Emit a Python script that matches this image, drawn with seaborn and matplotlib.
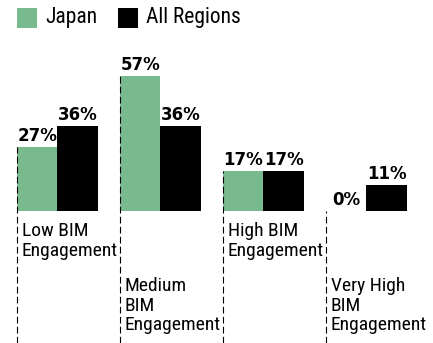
import matplotlib
matplotlib.use("Agg")
import matplotlib.pyplot as plt
from matplotlib.patches import Rectangle
import pandas as pd
import seaborn as sns

# Share of respondents by BIM engagement level
categories = ["Low BIM\nEngagement", "Medium\nBIM\nEngagement",
              "High BIM\nEngagement", "Very High\nBIM\nEngagement"]
series_names = ["Japan", "All Regions"]
japan = [27, 57, 17, 0]
all_regions = [36, 36, 17, 11]

colors = {"Japan": "#78b98e", "All Regions": "#000000"}

df = pd.DataFrame({
    "category": categories * 2,
    "series": [series_names[0]] * 4 + [series_names[1]] * 4,
    "value": japan + all_regions,
})

sns.set_style("white")
label_font = ["Roboto Condensed", "DejaVu Sans"]
value_font = ["DejaVu Sans"]

fig = plt.figure(figsize=(4.33, 3.43), dpi=100)
ax = fig.add_axes([0, 0, 1, 1])

sns.barplot(data=df, x="category", y="value", hue="series",
            hue_order=series_names, order=categories, palette=colors,
            width=0.786, saturation=1, legend=False, ax=ax,
            edgecolor="none", linewidth=0)

ax.set_xlim(-0.558, 3.646)
ax.set_ylim(-55.7, 89.0)
ax.set_axis_off()

bars = ax.patches
n = len(categories)
japan_bars = bars[:n]

# value labels above each bar
for bar, val in zip(bars, japan + all_regions):
    cx = bar.get_x() + bar.get_width() / 2
    ax.annotate(f"{val}%", xy=(cx, val), xytext=(0, 2),
                textcoords="offset pixels", ha="center", va="bottom",
                fontsize=12, fontweight="bold", family=value_font,
                color="black")

# dashed guide lines and category labels
ybottom = ax.get_ylim()[0]
for i, (bar, val, cat) in enumerate(zip(japan_bars, japan, categories)):
    left = bar.get_x()
    ax.vlines(left, ybottom, val, colors="black", linewidth=0.8,
              linestyles=(0, (6, 3)))
    drop = -11 if i % 2 == 0 else -66
    ax.annotate(cat, xy=(left, 0), xytext=(5, drop),
                textcoords="offset pixels", ha="left", va="top",
                fontsize=14, family=label_font, color="black",
                linespacing=1.12)

# legend drawn as figure patches and text
W, H = fig.get_size_inches() * fig.dpi
legend_x = [17, 118]
for name, lx in zip(series_names, legend_x):
    fig.patches.append(Rectangle((lx / W, 1 - 28 / H), 20 / W, 20 / H,
                                 transform=fig.transFigure,
                                 facecolor=colors[name], edgecolor="none"))
    fig.text((lx + 28) / W, 1 - 18 / H, name, ha="left", va="center",
             fontsize=15.5, family=label_font, color="black")

fig.savefig("out.png", dpi=100)
